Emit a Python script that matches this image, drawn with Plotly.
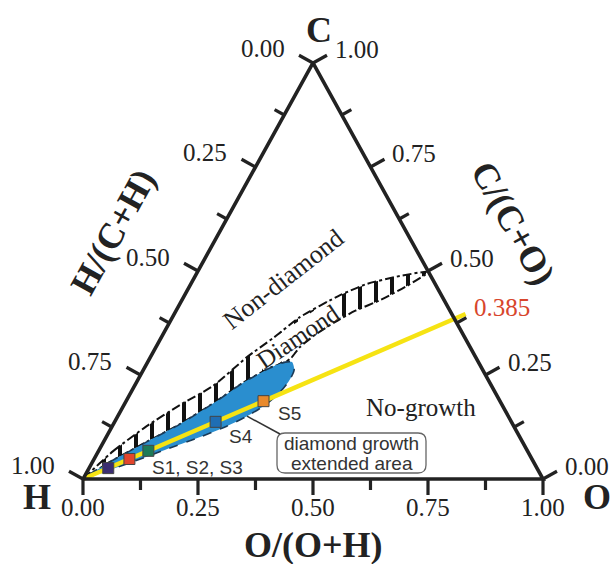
import math
import plotly.graph_objects as go

# ---------------------------------------------------------------------------
# Bachmann C-H-O diagram.  Compositions are atomic fractions (C, O; H = rest),
# plotted in a plane with H at (0, 0), O at (1, 0) and C at (0.5, 1).
# ---------------------------------------------------------------------------

TICK_VALUES = [0.0, 0.125, 0.25, 0.375, 0.5, 0.625, 0.75, 0.875, 1.0]
MAJOR_VALUES = [0.0, 0.25, 0.5, 0.75, 1.0]
TICK_LABELS = ["0.00", "0.25", "0.50", "0.75", "1.00"]

# C/(C+O) of the gas mixtures used for growth
CO_RATIO = 0.385

# Growth runs, all on the C/(C+O) = 0.385 line; H atomic fraction of each
sample_names = ["S1", "S2", "S3", "S4", "S5"]
sample_h = [0.932, 0.875, 0.824, 0.643, 0.514]
sample_colors = ["#3b2e72", "#e2452c", "#1d7b57", "#1f6eb4", "#e8892c"]

# Diamond domain (C, O atomic fractions): upper border from H to the CO line,
# then the lower border back down to the extended area
diamond_upper_c = [0.0, 0.067, 0.127, 0.178, 0.224, 0.293, 0.339, 0.389, 0.442, 0.469, 0.488, 0.498]
diamond_upper_o = [0.0, 0.032, 0.075, 0.122, 0.171, 0.210, 0.244, 0.277, 0.338, 0.383, 0.445, 0.502]
diamond_lower_c = [0.464, 0.430, 0.404, 0.377, 0.346, 0.317, 0.291]
diamond_lower_o = [0.472, 0.431, 0.389, 0.359, 0.331, 0.313, 0.307]

# Extended diamond growth area
ext_upper_c = [0.0, 0.041, 0.091, 0.132, 0.185, 0.231, 0.267, 0.281, 0.281]
ext_upper_o = [0.0, 0.038, 0.096, 0.145, 0.195, 0.232, 0.273, 0.299, 0.314]
ext_lower_c = [0.262, 0.236, 0.209, 0.178, 0.151, 0.127, 0.101, 0.070, 0.039, 0.014, 0.0]
ext_lower_o = [0.328, 0.330, 0.324, 0.307, 0.281, 0.249, 0.204, 0.143, 0.083, 0.030, 0.0]

# ---------------------------------------------------------------------------
W, H = 612, 564
X_RANGE = [-0.1804, 1.15]
Y_RANGE = [-0.2043, 1.1514]
PXX = W / (X_RANGE[1] - X_RANGE[0])   # pixels per unit along x
PXY = H / (Y_RANGE[1] - Y_RANGE[0])   # pixels per unit along y

INK = "#222222"
SERIF = "Liberation Serif"
SANS = "Liberation Sans"


def plane(c, o):
    """Atomic fractions -> plane coordinates."""
    return o + c / 2.0, c


def plane_list(cs, os_):
    pts = [plane(c, o) for c, o in zip(cs, os_)]
    return [p[0] for p in pts], [p[1] for p in pts]


def screen_offset(sx, sy):
    """Offset given in screen pixels (y down) -> data units."""
    return sx / PXX, -sy / PXY


def at_px(px, py):
    """Screen pixel position -> data position (used for text placement)."""
    return X_RANGE[0] + px / PXX, Y_RANGE[1] - py / PXY


# corners
P_H, P_O, P_C = (0.0, 0.0), (1.0, 0.0), (0.5, 1.0)


def bottom_pt(v):   # O/(O+H), 0 at H -> 1 at O
    return (v, 0.0)


def left_pt(v):     # H/(C+H), 0 at C -> 1 at H
    return (0.5 - 0.5 * v, 1.0 - v)


def right_pt(v):    # C/(C+O), 0 at O -> 1 at C
    return (1.0 - 0.5 * v, v)


# outward normals of each edge, in screen pixels
_lx, _ly = 0.5 * PXX, -1.0 * PXY
_ln = (_lx ** 2 + _ly ** 2) ** 0.5
N_LEFT = (_ly / _ln, -_lx / _ln)
N_RIGHT = (-_ly / _ln, -_lx / _ln)
N_BOTTOM = (0.0, 1.0)

fig = go.Figure()

# --- diamond domain (hatched) -------------------------------------------------
dx_u, dy_u = plane_list(diamond_upper_c, diamond_upper_o)
dx_l, dy_l = plane_list(diamond_lower_c, diamond_lower_o)
ex_u, ey_u = plane_list(ext_upper_c, ext_upper_o)
ex_l, ey_l = plane_list(ext_lower_c, ext_lower_o)

band_x = dx_u + dx_l + ex_u[::-1][1:]
band_y = dy_u + dy_l + ey_u[::-1][1:]
fig.add_trace(go.Scatter(
    x=band_x, y=band_y, mode="lines", fill="toself",
    fillcolor="white",
    fillpattern=dict(shape="|", fgcolor="#111111", bgcolor="white",
                     size=16, solidity=0.25, fillmode="replace"),
    line=dict(width=0, shape="spline", smoothing=0.6),
    hoverinfo="skip", showlegend=False,
))

# clear patch behind the "Diamond" label
DIAMOND_LABEL_PX = (298, 336)
DIAMOND_ANGLE = -34
hw, hh = 48, 12
ca, sa = math.cos(math.radians(DIAMOND_ANGLE)), math.sin(math.radians(DIAMOND_ANGLE))
cx0, cy0 = at_px(*DIAMOND_LABEL_PX)
qx, qy = [], []
for u, w in ((-hw, -hh), (hw, -hh), (hw, hh), (-hw, hh), (-hw, -hh)):
    ox, oy = screen_offset(u * ca - w * sa, u * sa + w * ca)
    qx.append(cx0 + ox)
    qy.append(cy0 + oy)
fig.add_trace(go.Scatter(
    x=qx, y=qy, mode="lines", fill="toself", fillcolor="white",
    line=dict(width=0), hoverinfo="skip", showlegend=False,
))

# outline of the diamond domain
fig.add_trace(go.Scatter(
    x=band_x + band_x[:1], y=band_y + band_y[:1], mode="lines",
    line=dict(color="#111111", width=2, dash="dashdot", shape="spline", smoothing=0.6),
    hoverinfo="skip", showlegend=False,
))

# --- extended growth area -------------------------------------------------------
fig.add_trace(go.Scatter(
    x=ex_u + ex_l, y=ey_u + ey_l, mode="lines", fill="toself",
    fillcolor="#2a8ecf",
    line=dict(color="#1b3a57", width=1.6, dash="dash", shape="spline", smoothing=0.7),
    hoverinfo="skip", showlegend=False,
))

# --- constant C/(C+O) line --------------------------------------------------------
end_x, end_y = right_pt(CO_RATIO)
ext = 1.03
fig.add_trace(go.Scatter(
    x=[P_H[0], end_x * ext], y=[P_H[1], end_y * ext], mode="lines",
    line=dict(color="#f6e313", width=4.5),
    hoverinfo="skip", showlegend=False,
))

# --- triangle frame and ticks --------------------------------------------------
fig.add_trace(go.Scatter(
    x=[P_H[0], P_O[0], P_C[0], P_H[0]], y=[P_H[1], P_O[1], P_C[1], P_H[1]],
    mode="lines", line=dict(color=INK, width=3.6),
    hoverinfo="skip", showlegend=False,
))

tx, ty = [], []
for pt_fn, nrm in ((bottom_pt, N_BOTTOM), (left_pt, N_LEFT), (right_pt, N_RIGHT)):
    for v in TICK_VALUES:
        length = 16 if v in MAJOR_VALUES else 11
        x0, y0 = pt_fn(v)
        ox, oy = screen_offset(nrm[0] * length, nrm[1] * length)
        tx += [x0, x0 + ox, None]
        ty += [y0, y0 + oy, None]
fig.add_trace(go.Scatter(
    x=tx, y=ty, mode="lines", line=dict(color=INK, width=3.2),
    hoverinfo="skip", showlegend=False,
))

# --- growth runs -----------------------------------------------------------------
sx, sy = [], []
for h in sample_h:
    c = CO_RATIO * (1 - h)
    o = (1 - CO_RATIO) * (1 - h)
    x, y = plane(c, o)
    sx.append(x)
    sy.append(y)
fig.add_trace(go.Scatter(
    x=sx, y=sy, mode="markers",
    marker=dict(symbol="square", size=11, color=sample_colors,
                line=dict(color="#444444", width=1)),
    hoverinfo="skip", showlegend=False,
))

# --- annotations -------------------------------------------------------------------
ann = []


def text(x, y, s, size, family=SERIF, color=INK, angle=0, xanchor="center",
         yanchor="middle", xshift=0, yshift=0):
    ann.append(dict(x=x, y=y, text=s, showarrow=False, textangle=angle,
                    font=dict(family=family, size=size, color=color),
                    xanchor=xanchor, yanchor=yanchor, xshift=xshift, yshift=yshift))


LBL = 25
for v, s in zip(MAJOR_VALUES, TICK_LABELS):
    bx, by = bottom_pt(v)
    text(bx, by, s, LBL, yshift=-28)
    lx, ly = left_pt(v)
    text(lx, ly, s, LBL, xanchor="right", xshift=-26, yshift=14)
    rx, ry = right_pt(v)
    text(rx, ry, s, LBL, xanchor="left", xshift=20, yshift=13)

rx, ry = right_pt(CO_RATIO)
text(rx, ry, f"{CO_RATIO:.3f}", LBL, color="#d8462c", xanchor="left", xshift=18, yshift=11)

TITLE = 36
text(*at_px(319, 30), "<b>C</b>", TITLE)
text(*at_px(37, 497), "<b>H</b>", TITLE)
text(*at_px(597, 497), "<b>O</b>", TITLE)
text(*at_px(313, 545), "<b>O/(O+H)</b>", TITLE)
text(*at_px(113, 232), "<b>H/(C+H)</b>", TITLE, angle=-61)
text(*at_px(513, 223), "<b>C/(C+O)</b>", TITLE, angle=61)

text(*at_px(283, 279), "Non-diamond", 26, angle=-38)
text(*at_px(*DIAMOND_LABEL_PX), "Diamond", 25, angle=DIAMOND_ANGLE)
text(*at_px(421, 407), "No-growth", 25)

# run labels
text(sx[2], sy[2], "S1, S2, S3", 19, family=SANS, color="#333333",
     xanchor="left", xshift=2, yshift=-17)
text(sx[3], sy[3], "S4", 19, family=SANS, color="#333333",
     xanchor="left", xshift=11, yshift=-15)
text(sx[4], sy[4], "S5", 19, family=SANS, color="#333333",
     xanchor="left", xshift=12, yshift=-12)

# callout box for the extended area
bx0, by0 = at_px(277, 473)
bx1, by1 = at_px(426, 433)
rxr, ryr = 8 / PXX, 8 / PXY
box_path = (
    f"M {bx0 + rxr},{by1} L {bx1 - rxr},{by1} Q {bx1},{by1} {bx1},{by1 - ryr} "
    f"L {bx1},{by0 + ryr} Q {bx1},{by0} {bx1 - rxr},{by0} "
    f"L {bx0 + rxr},{by0} Q {bx0},{by0} {bx0},{by0 + ryr} "
    f"L {bx0},{by1 - ryr} Q {bx0},{by1} {bx0 + rxr},{by1} Z"
)
lead_x0, lead_y0 = ex_l[4], ey_l[4]
lead_x1, lead_y1 = at_px(280, 434)
shapes = [
    dict(type="path", path=box_path, line=dict(color="#666666", width=1.3),
         fillcolor="white", layer="above"),
    dict(type="line", x0=lead_x0, y0=lead_y0, x1=lead_x1, y1=lead_y1,
         line=dict(color="#333333", width=1.5), layer="above"),
]
text(*at_px(351.5, 443), "diamond growth", 19, family=SANS, color="#333333")
text(*at_px(351.5, 463), "extended area", 19, family=SANS, color="#333333")

fig.update_layout(
    width=W, height=H,
    margin=dict(l=0, r=0, t=0, b=0),
    paper_bgcolor="white", plot_bgcolor="white",
    xaxis=dict(range=X_RANGE, visible=False, fixedrange=True),
    yaxis=dict(range=Y_RANGE, visible=False, fixedrange=True),
    annotations=ann, shapes=shapes, showlegend=False,
)

fig.write_html("out.html", config={"displayModeBar": False})
